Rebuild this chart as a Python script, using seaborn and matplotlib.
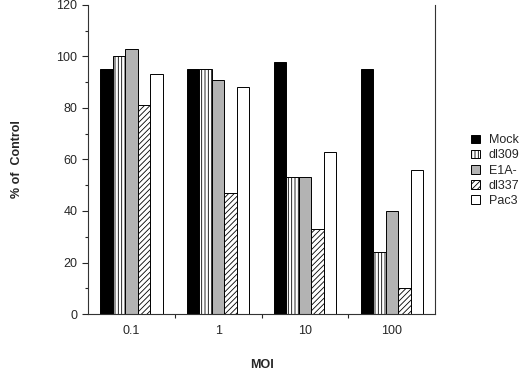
import pandas as pd
import seaborn as sns
import matplotlib.pyplot as plt
from matplotlib.ticker import MultipleLocator, FixedLocator

sns.set_style('ticks')
plt.rcParams['font.family'] = ['Liberation Sans', 'DejaVu Sans']
plt.rcParams['hatch.linewidth'] = 0.6

# data
moi = ['0.1', '1', '10', '100']
virus = ['Mock', 'dl309', 'E1A-', 'dl337', 'Pac3']
mock = [95, 95, 98, 95]
dl309 = [100, 95, 53, 24]
e1a = [103, 91, 53, 40]
dl337 = [81, 47, 33, 10]
pac3 = [93, 88, 63, 56]

df = pd.DataFrame({'MOI': moi * 5,
                   'virus': [v for v in virus for _ in moi],
                   'pct': mock + dl309 + e1a + dl337 + pac3})

fills = ['black', 'white', '#b3b3b3', 'white', 'white']
hatches = ['', '|||||', '', '//////', '']

fig = plt.figure(figsize=(5.2, 3.73), dpi=100)
ax = fig.add_axes([0.169, 0.158, 0.668, 0.829])
sns.barplot(data=df, x='MOI', y='pct', hue='virus', hue_order=virus,
            order=moi, width=0.72, legend=False, ax=ax)

for c, fc, h in zip(ax.containers, fills, hatches):
    for p in c.patches:
        p.set_facecolor(fc)
        p.set_edgecolor('black')
        p.set_linewidth(0.7)
        p.set_hatch(h)

ax.set_xlim(-0.5, 3.5)
ax.set_ylim(0, 120)
ax.yaxis.set_major_locator(MultipleLocator(20))
ax.yaxis.set_minor_locator(MultipleLocator(10))
ax.xaxis.set_minor_locator(FixedLocator([0.5, 1.5, 2.5]))
ax.tick_params(axis='x', which='major', length=0, pad=8, labelsize=9)
ax.tick_params(axis='x', which='minor', length=3, width=0.8)
ax.tick_params(axis='y', which='major', length=4, width=0.8, labelsize=9)
ax.tick_params(axis='y', which='minor', length=2, width=0.8)

ax.spines['top'].set_visible(False)
for s in ['left', 'right', 'bottom']:
    ax.spines[s].set_linewidth(0.8)
    ax.spines[s].set_color('#333333')

ax.set_xlabel('MOI', fontweight='bold', fontsize=9, labelpad=16)
ax.set_ylabel('% of  Control', fontweight='bold', fontsize=9, labelpad=24)

fig.legend(handles=list(ax.containers), labels=virus, frameon=False,
           loc='upper left', bbox_to_anchor=(0.885, 0.67), fontsize=9,
           handlelength=0.7, handleheight=0.7, handletextpad=0.7,
           labelspacing=0.25)

fig.savefig('out.png', dpi=100)
